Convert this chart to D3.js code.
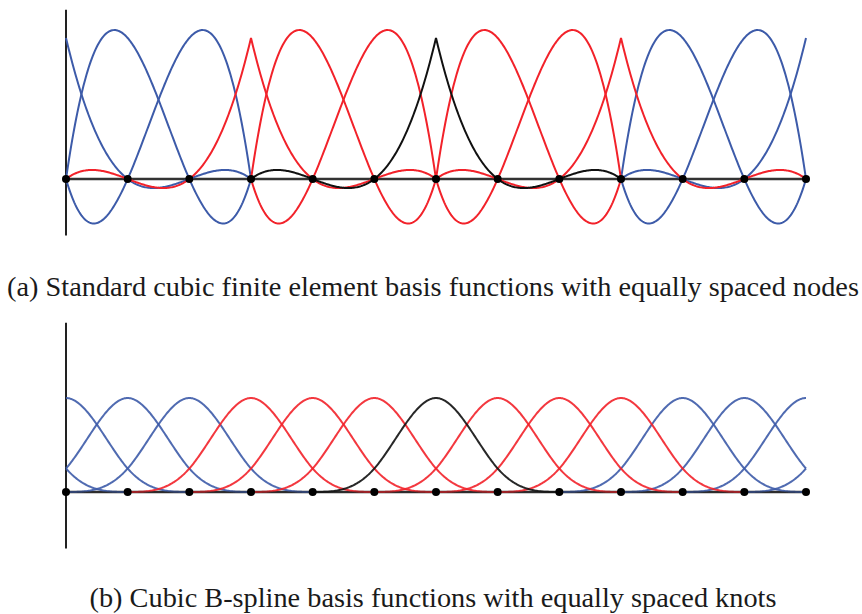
<!DOCTYPE html>
<html>
<head>
<meta charset="utf-8">
<script src="https://cdn.jsdelivr.net/npm/d3@7"></script>
<style>
  html, body { margin: 0; padding: 0; background: #fff; }
  svg { display: block; }
</style>
</head>
<body>
<svg id="chart" width="862" height="614"></svg>
<script>
// Node / knot positions on the unit-spaced grid
const nodes = [0, 1, 2, 3, 4, 5, 6, 7, 8, 9, 10, 11, 12];
// Cubic elements: each spans three intervals
const elements = [[0, 3], [3, 6], [6, 9], [9, 12]];
// Colour of the global Lagrange basis function attached to each node
const feColors = ["blue", "blue", "blue", "red", "red", "red", "black",
                  "red", "red", "red", "blue", "blue", "blue"];
// B-spline centres (one knot outside each end) and their colours
const bsCenters = [-1, 0, 1, 2, 3, 4, 5, 6, 7, 8, 9, 10, 11, 12, 13];
const bsColors = ["blue", "blue", "blue", "blue", "red", "red", "red", "black",
                  "red", "red", "red", "blue", "blue", "blue", "blue"];
// Vertical extent of both axes (value units)
const axisRange = [-0.4, 1.2];
const captions = [
  "(a) Standard cubic finite element basis functions with equally spaced nodes",
  "(b) Cubic B-spline basis functions with equally spaced knots"
];

const palette = { blue: "#3d5ba9", red: "#f2222a", black: "#111111" };

const svg = d3.select("#chart");

const x = d3.scaleLinear().domain([0, 12]).range([66, 806]);
const yTop = d3.scaleLinear().domain([0, 1]).range([179, 38]);
const yBot = d3.scaleLinear().domain([0, 1]).range([492, 351]);

// Local cubic Lagrange polynomial for local node k (0..3) at local coordinate s in [0,3]
function lagrange(k, s) {
  let v = 1;
  for (let j = 0; j < 4; j++) {
    if (j !== k) v *= (s - j) / (k - j);
  }
  return v;
}

// Uniform cubic B-spline centred at c
function bspline(c, t) {
  const u = Math.abs(t - c);
  if (u >= 2) return 0;
  if (u >= 1) return Math.pow(2 - u, 3) / 6;
  return 2 / 3 - u * u + u * u * u / 2;
}

const samplesPerUnit = 60;

// Pieces of the global FE basis function of node n (one per element it touches)
function fePieces(n) {
  const pieces = [];
  elements.forEach(([a, b]) => {
    if (n < a || n > b) return;
    const k = n - a;
    const pts = [];
    const steps = (b - a) * samplesPerUnit;
    for (let i = 0; i <= steps; i++) {
      const t = a + (b - a) * i / steps;
      pts.push({ t, v: lagrange(k, t - a) });
    }
    pieces.push(pts);
  });
  // join the two pieces of a boundary-node function into one path
  if (pieces.length === 2) return [pieces[0].concat(pieces[1].slice(1))];
  return pieces;
}

// Samples of the B-spline over its support, clipped to the domain
function bsPoints(c) {
  const a = Math.max(0, c - 2), b = Math.min(12, c + 2);
  const pts = [];
  const steps = Math.round((b - a) * samplesPerUnit);
  for (let i = 0; i <= steps; i++) {
    const t = a + (b - a) * i / steps;
    pts.push({ t, v: bspline(c, t) });
  }
  return pts;
}

function drawFrame(g, y) {
  g.append("line")
    .attr("x1", x(0)).attr("x2", x(0))
    .attr("y1", y(axisRange[1])).attr("y2", y(axisRange[0]))
    .attr("stroke", "#222").attr("stroke-width", 2);
  g.append("line")
    .attr("x1", x(nodes[0])).attr("x2", x(nodes[nodes.length - 1]))
    .attr("y1", y(0)).attr("y2", y(0))
    .attr("stroke", "#333").attr("stroke-width", 2.5);
}

function drawDots(g, y) {
  g.selectAll("circle.node").data(nodes).join("circle")
    .attr("class", "node")
    .attr("cx", d => x(d)).attr("cy", y(0)).attr("r", 4)
    .attr("fill", "#000");
}

// ---------- Panel (a): cubic Lagrange finite element basis ----------
const gA = svg.append("g");
drawFrame(gA, yTop);
const lineA = d3.line().x(d => x(d.t)).y(d => yTop(d.v));
const order = ["blue", "red", "black"];
order.forEach(col => {
  nodes.forEach(n => {
    if (feColors[n] !== col) return;
    fePieces(n).forEach(pts => {
      gA.append("path")
        .attr("d", lineA(pts))
        .attr("fill", "none")
        .attr("stroke", palette[col])
        .attr("stroke-width", 2)
        .attr("stroke-linejoin", "miter");
    });
  });
});
drawDots(gA, yTop);

// ---------- Panel (b): cubic B-spline basis ----------
const gB = svg.append("g");
drawFrame(gB, yBot);
const lineB = d3.line().x(d => x(d.t)).y(d => yBot(d.v));
order.forEach(col => {
  bsCenters.forEach((c, i) => {
    if (bsColors[i] !== col) return;
    gB.append("path")
      .attr("d", lineB(bsPoints(c)))
      .attr("fill", "none")
      .attr("stroke", palette[col])
      .attr("stroke-width", 2)
      .attr("stroke-opacity", 0.9);
  });
});
// dark baseline drawn again, thinner, so the zero tails only tint it
gB.append("line")
  .attr("x1", x(nodes[0])).attr("x2", x(nodes[nodes.length - 1]))
  .attr("y1", yBot(0)).attr("y2", yBot(0))
  .attr("stroke", "#222").attr("stroke-width", 1.2).attr("stroke-opacity", 0.7);
drawDots(gB, yBot);

// ---------- Captions ----------
svg.selectAll("text.caption").data(captions).join("text")
  .attr("class", "caption")
  .attr("x", 433)
  .attr("y", (d, i) => i === 0 ? 296 : 607)
  .attr("text-anchor", "middle")
  .attr("font-family", "'Liberation Serif', 'Times New Roman', serif")
  .attr("font-size", 28.3)
  .attr("fill", "#1a1a1a")
  .text(d => d);
</script>
</body>
</html>
